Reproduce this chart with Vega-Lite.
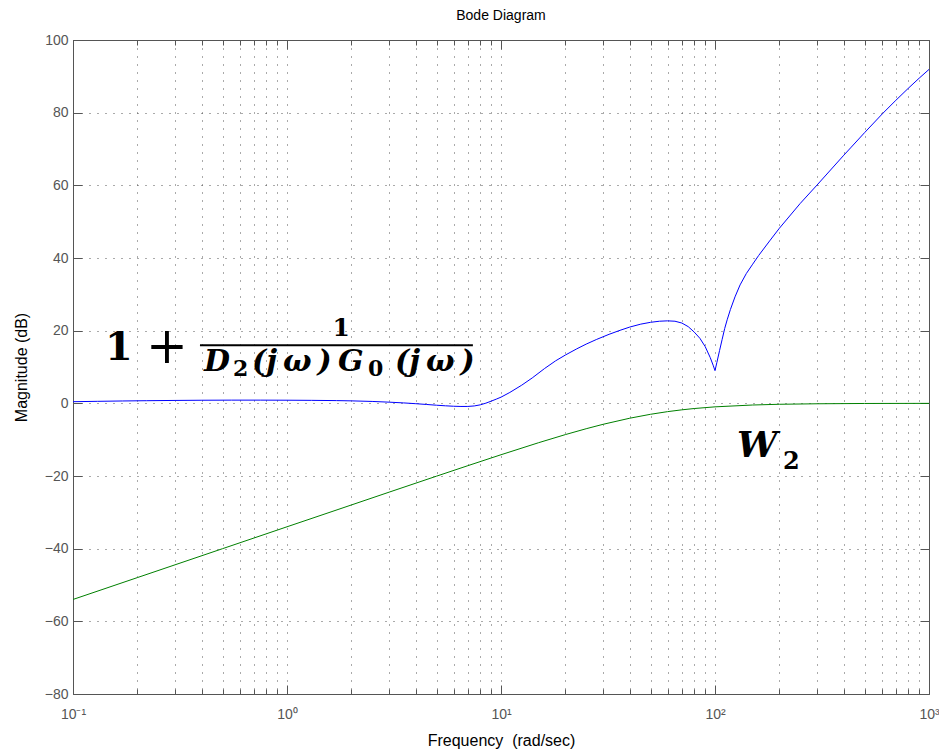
{
  "$schema": "https://vega.github.io/schema/vega-lite/v6.json",
  "width": 856,
  "height": 654,
  "autosize": {"type": "none"},
  "padding": {"left": 73, "top": 40, "right": 10, "bottom": 56},
  "background": "white",
  "title": {"text": "Bode Diagram", "font": "Liberation Sans", "fontSize": 14, "fontWeight": "normal", "color": "black", "anchor": "middle", "baseline": "bottom", "offset": -4},
  "config": {
    "view": {"stroke": null},
    "axis": {"domainColor": "#555", "tickColor": "#555", "labelColor": "#555", "labelFont": "Liberation Sans", "labelFontSize": 14, "titleFont": "Liberation Sans", "titleFontSize": 16, "titleFontWeight": "normal", "titleColor": "black", "gridColor": "#555", "gridDash": [1, 7], "gridWidth": 1, "domainWidth": 1, "tickWidth": 1}
  },
  "datasets": {
    "blue": [
      {"f": 0.1, "db": 0.45}, {"f": 0.13, "db": 0.55}, {"f": 0.17, "db": 0.65}, {"f": 0.22, "db": 0.72}, {"f": 0.3, "db": 0.8}, {"f": 0.4, "db": 0.85}, {"f": 0.55, "db": 0.88}, {"f": 0.75, "db": 0.88}, {"f": 1, "db": 0.86}, {"f": 1.3, "db": 0.82}, {"f": 1.7, "db": 0.75}, {"f": 2.0, "db": 0.68}, {"f": 2.5, "db": 0.52}, {"f": 3.0, "db": 0.32}, {"f": 3.5, "db": 0.12}, {"f": 4.0, "db": -0.1}, {"f": 4.5, "db": -0.32}, {"f": 5.0, "db": -0.52}, {"f": 5.5, "db": -0.68}, {"f": 6.0, "db": -0.8}, {"f": 6.5, "db": -0.86}, {"f": 7.0, "db": -0.85}, {"f": 7.5, "db": -0.72}, {"f": 8.0, "db": -0.42}, {"f": 8.5, "db": 0.05}, {"f": 9.0, "db": 0.6}, {"f": 9.5, "db": 1.15}, {"f": 10, "db": 1.7}, {"f": 11, "db": 3.0}, {"f": 12.5, "db": 5.0}, {"f": 14, "db": 7.0}, {"f": 16, "db": 9.6}, {"f": 18, "db": 11.7}, {"f": 20, "db": 13.3}, {"f": 22.6, "db": 15.0}, {"f": 25, "db": 16.3}, {"f": 28, "db": 17.6}, {"f": 32, "db": 19.0}, {"f": 36, "db": 20.1}, {"f": 40, "db": 21.0}, {"f": 45, "db": 21.8}, {"f": 50, "db": 22.3}, {"f": 55, "db": 22.6}, {"f": 60, "db": 22.7}, {"f": 65, "db": 22.6}, {"f": 70, "db": 22.1}, {"f": 75, "db": 21.1}, {"f": 80, "db": 19.6}, {"f": 85, "db": 17.9}, {"f": 90, "db": 15.6}, {"f": 95, "db": 12.6}, {"f": 98, "db": 10.5}, {"f": 100, "db": 9.0}, {"f": 102, "db": 11.2}, {"f": 105, "db": 14.5}, {"f": 108, "db": 17.6}, {"f": 111, "db": 20.6}, {"f": 114, "db": 23.0}, {"f": 118, "db": 25.8}, {"f": 124, "db": 29.3}, {"f": 131, "db": 32.6}, {"f": 140, "db": 35.7}, {"f": 150, "db": 38.3}, {"f": 160, "db": 40.7}, {"f": 180, "db": 44.7}, {"f": 200, "db": 48.2}, {"f": 250, "db": 55.0}, {"f": 300, "db": 60.1}, {"f": 400, "db": 68.3}, {"f": 430, "db": 70.3}, {"f": 500, "db": 74.5}, {"f": 608, "db": 79.8}, {"f": 700, "db": 83.4}, {"f": 800, "db": 86.7}, {"f": 900, "db": 89.5}, {"f": 1000, "db": 91.9}
    ],
    "green": [
      {"f": 0.1, "db": -53.98}, {"f": 0.2, "db": -47.96}, {"f": 0.5, "db": -40.0}, {"f": 1, "db": -33.98}, {"f": 2, "db": -27.97}, {"f": 3, "db": -24.45}, {"f": 5, "db": -20.04}, {"f": 7, "db": -17.16}, {"f": 10, "db": -14.15}, {"f": 15, "db": -10.83}, {"f": 20, "db": -8.6}, {"f": 25, "db": -6.99}, {"f": 30, "db": -5.77}, {"f": 40, "db": -4.09}, {"f": 50, "db": -3.01}, {"f": 60, "db": -2.29}, {"f": 70, "db": -1.79}, {"f": 80, "db": -1.43}, {"f": 100, "db": -0.97}, {"f": 150, "db": -0.46}, {"f": 200, "db": -0.26}, {"f": 300, "db": -0.12}, {"f": 500, "db": -0.04}, {"f": 1000, "db": -0.01}
    ],
    "mathBig": [
      {"f": 0.4093, "db": 9.0, "label": "D"},
      {"f": 0.6863, "db": 9.0, "label": "(j\u2009ω\u2009)"},
      {"f": 1.731, "db": 9.0, "label": "G"},
      {"f": 3.196, "db": 9.0, "label": "(j\u2009ω\u2009)"}
    ],
    "mathSub": [
      {"f": 0.5595, "db": 7.4, "label": "2"},
      {"f": 2.39, "db": 7.4, "label": "0"}
    ]
  },
  "layer": [
    {
      "data": {"name": "blue"},
      "mark": {"type": "line", "color": "#0000ff", "strokeWidth": 1, "clip": true},
      "encoding": {
        "x": {"field": "f", "type": "quantitative", "scale": {"type": "log", "domain": [0.1, 1000], "nice": false},
          "axis": {"orient": "bottom", "values": [0.1, 0.2, 0.3, 0.4, 0.5, 0.6, 0.7, 0.8, 0.9, 1, 2, 3, 4, 5, 6, 7, 8, 9, 10, 20, 30, 40, 50, 60, 70, 80, 90, 100, 200, 300, 400, 500, 600, 700, 800, 900, 1000],
            "grid": true, "tickSize": {"condition": {"test": "abs(log(datum.value)/LN10 - round(log(datum.value)/LN10)) < 0.001", "value": -9}, "value": -5},
            "labelExpr": "datum.value == 0.1 ? '10⁻¹' : datum.value == 1 ? '10⁰' : datum.value == 10 ? '10¹' : datum.value == 100 ? '10²' : datum.value == 1000 ? '10³' : ''",
            "labelPadding": 22, "labelFlush": false, "labelOverlap": false, "labelBound": false,
            "title": "Frequency\u00a0 (rad/sec)", "titlePadding": 7}},
        "y": {"field": "db", "type": "quantitative", "scale": {"domain": [-80, 100], "nice": false, "zero": false},
          "axis": {"orient": "left", "values": [-80, -60, -40, -20, 0, 20, 40, 60, 80, 100], "grid": true, "tickSize": -9, "labelPadding": 14, "title": "Magnitude (dB)", "titlePadding": 15}}
      }
    },
    {
      "data": {"name": "green"},
      "mark": {"type": "line", "color": "#008000", "strokeWidth": 1, "clip": true},
      "encoding": {
        "x": {"field": "f", "type": "quantitative", "scale": {"type": "log", "domain": [0.1, 1000], "nice": false},
          "axis": {"orient": "top", "values": [0.1, 0.2, 0.3, 0.4, 0.5, 0.6, 0.7, 0.8, 0.9, 1, 2, 3, 4, 5, 6, 7, 8, 9, 10, 20, 30, 40, 50, 60, 70, 80, 90, 100, 200, 300, 400, 500, 600, 700, 800, 900, 1000],
            "grid": false, "labels": false, "title": null, "tickSize": {"condition": {"test": "abs(log(datum.value)/LN10 - round(log(datum.value)/LN10)) < 0.001", "value": -9}, "value": -5}}},
        "y": {"field": "db", "type": "quantitative", "scale": {"domain": [-80, 100], "nice": false, "zero": false},
          "axis": {"orient": "right", "values": [-80, -60, -40, -20, 0, 20, 40, 60, 80, 100], "grid": false, "labels": false, "title": null, "tickSize": -9}}
      }
    },
    {
      "data": {"values": [{"f": 0.164, "db": 11.9, "label": "1"}]},
      "mark": {"type": "text", "font": "DejaVu Serif", "fontWeight": "bold", "fontSize": 40, "align": "center", "baseline": "alphabetic", "color": "black"},
      "encoding": {"x": {"field": "f", "type": "quantitative", "axis": null}, "y": {"field": "db", "type": "quantitative", "axis": null}, "text": {"field": "label"}}
    },
    {
      "data": {"values": [{"f": 0.275, "db": 11.0, "label": "+"}]},
      "mark": {"type": "text", "font": "DejaVu Serif", "fontWeight": "normal", "fontSize": 50, "align": "center", "baseline": "alphabetic", "color": "black"},
      "encoding": {"x": {"field": "f", "type": "quantitative", "axis": null}, "y": {"field": "db", "type": "quantitative", "axis": null}, "text": {"field": "label"}}
    },
    {
      "data": {"values": [{"f": 1.79, "db": 20.6, "label": "1"}]},
      "mark": {"type": "text", "font": "DejaVu Serif", "fontWeight": "bold", "fontSize": 25, "align": "center", "baseline": "middle", "color": "black"},
      "encoding": {"x": {"field": "f", "type": "quantitative", "axis": null}, "y": {"field": "db", "type": "quantitative", "axis": null}, "text": {"field": "label"}}
    },
    {
      "data": {"values": [{"f": 0.392, "f2": 7.39, "db": 16.0}]},
      "mark": {"type": "rule", "color": "black", "strokeWidth": 2},
      "encoding": {"x": {"field": "f", "type": "quantitative", "axis": null}, "x2": {"field": "f2"}, "y": {"field": "db", "type": "quantitative", "axis": null}}
    },
    {
      "data": {"name": "mathBig"},
      "mark": {"type": "text", "font": "DejaVu Serif", "fontWeight": "bold", "fontStyle": "italic", "fontSize": 30, "align": "left", "baseline": "alphabetic", "color": "black"},
      "encoding": {"x": {"field": "f", "type": "quantitative", "axis": null}, "y": {"field": "db", "type": "quantitative", "axis": null}, "text": {"field": "label"}}
    },
    {
      "data": {"name": "mathSub"},
      "mark": {"type": "text", "font": "DejaVu Serif", "fontWeight": "bold", "fontSize": 22, "align": "left", "baseline": "alphabetic", "color": "black"},
      "encoding": {"x": {"field": "f", "type": "quantitative", "axis": null}, "y": {"field": "db", "type": "quantitative", "axis": null}, "text": {"field": "label"}}
    },
    {
      "data": {"values": [{"f": 126.8, "db": -14.8, "label": "W"}]},
      "mark": {"type": "text", "font": "DejaVu Serif", "fontWeight": "bold", "fontStyle": "italic", "fontSize": 36, "align": "left", "baseline": "alphabetic", "color": "black"},
      "encoding": {"x": {"field": "f", "type": "quantitative", "axis": null}, "y": {"field": "db", "type": "quantitative", "axis": null}, "text": {"field": "label"}}
    },
    {
      "data": {"values": [{"f": 208, "db": -18.1, "label": "2"}]},
      "mark": {"type": "text", "font": "DejaVu Serif", "fontWeight": "bold", "fontSize": 24, "align": "left", "baseline": "alphabetic", "color": "black"},
      "encoding": {"x": {"field": "f", "type": "quantitative", "axis": null}, "y": {"field": "db", "type": "quantitative", "axis": null}, "text": {"field": "label"}}
    }
  ],
  "resolve": {"axis": {"x": "independent", "y": "independent"}}
}
